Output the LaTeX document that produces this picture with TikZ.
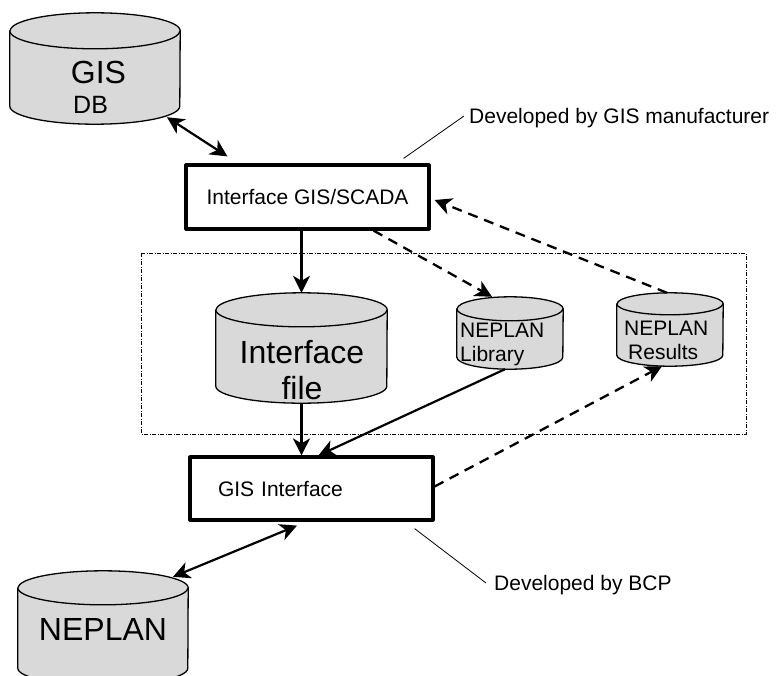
\documentclass[tikz,border=0pt]{standalone}
\usepackage{fontspec}
\setmainfont{Liberation Sans}
\usetikzlibrary{arrows.meta}

% data base drawn as a cylinder: name, x, y, width, height, radius of the end
\newcommand\database[6]{%
   \node[inner sep=0pt,minimum width=#4,minimum height=#5] (#1) at (#2,#3) {};
   \filldraw[dbline] ([yshift=-#6pt]#1.north west) -- ([yshift=#6pt]#1.south west)
      arc[start angle=180,end angle=360,x radius=#4pt/2,y radius=#6pt]
      -- ([yshift=-#6pt]#1.north east)
      arc[start angle=0,end angle=180,x radius=#4pt/2,y radius=#6pt] -- cycle;
   \draw[dbline] ([yshift=-#6pt]#1.north west)
      arc[start angle=180,end angle=360,x radius=#4pt/2,y radius=#6pt];}

\begin{document}
\begin{tikzpicture}[x=1pt,y=-1pt,line join=round,
   dbline/.style={line width=1.3pt,fill=gray!30},
   unit/.style={draw,line width=3.2pt,rectangle,inner sep=0pt,font=\fontsize{21}{25}\selectfont},
   arrowed/.style={-{Stealth[length=17pt,width=17pt,inset=5pt]}},
   flow/.style={arrowed,line width=2.6pt},
   twoway/.style={{Stealth[length=17pt,width=17pt,inset=5pt]}-{Stealth[length=17pt,width=17pt,inset=5pt]},line width=2.2pt},
   feed/.style={arrowed,line width=2.3pt,dash pattern=on 10pt off 7pt},
   txt/.style={font=\fontsize{21}{25}\selectfont,anchor=base west,inner sep=0pt},
   bigtxt/.style={font=\fontsize{32}{36}\selectfont,anchor=base,inner sep=0pt}]
   \useasboundingbox (0,0) rectangle (776,675);
   % dotted frame round the NEPLAN files
   \draw[line width=1pt,dash pattern=on 4pt off 1.5pt on 1pt off 1.5pt] (141,253) rectangle (746,434);
   % data bases
   \database{gisdb}{95}{68.5}{170}{111}{18}
   \database{ifile}{301.5}{348}{171}{110}{17}
   \database{lib}{510}{333}{106}{72}{12}
   \database{res}{670}{329.5}{106}{73}{11}
   \database{neplan}{103}{628}{170}{114}{17}
   \node[bigtxt] (gistxt) at (98.5,83) {GIS};
   \node[font=\fontsize{25}{30}\selectfont,anchor=base west,inner sep=0pt] (dbtxt) at (73,113) {DB};
   \node[bigtxt] (ifiletxt) at (302,363) {Interface};
   \node[bigtxt] (filetxt) at (302,399) {file};
   \node[txt] (libtxt) at (460,337) {NEPLAN};
   \node[txt] (libtxtb) at (460,361) {Library};
   \node[txt] (restxt) at (624,335) {NEPLAN};
   \node[txt] (restxtb) at (628,359) {Results};
   \node[bigtxt] (neplantxt) at (103,640) {NEPLAN};
   % interfaces
   \node[unit,minimum width=243,minimum height=64] (scada) at (307.5,197) {Interface GIS/SCADA};
   \node[unit,minimum width=243,minimum height=63,text width=187,inner xsep=28,align=left] (gisif) at (311.5,488.5) {GIS Interface};
   % notes
   \node[txt] (mfrnote) at (469,123) {Developed by GIS manufacturer};
   \node[txt] (bcpnote) at (494,590) {Developed by BCP};
   \draw[line width=0.8pt] ([shift={(-27,-5)}]scada.north east) -- ([shift={(-5,-7)}]mfrnote.base west);
   \draw[line width=0.8pt] ([shift={(-20,7)}]gisif.south east) -- ([shift={(-8,-7)}]bcpnote.base west);
   % connectors
   \draw[twoway] ([shift={(72,-7)}]gisdb.south) -- ([shift={(43,-7)}]scada.north west);
   \draw[flow] (ifile.north |- scada.south) -- (ifile.north);
   \draw[flow] (ifile.south) -- (ifile.south |- gisif.north);
   \draw[flow,line width=2.2pt] ([xshift=-5]lib.south) -- ([xshift=7]gisif.north);
   \draw[feed] ([xshift=-57]scada.south east) -- ([xshift=-18]lib.north);
   \draw[feed] ([xshift=-3]res.north) -- ([shift={(4,3)}]scada.east);
   \draw[feed] ([yshift=2]gisif.east) -- ([xshift=-8]res.south);
   \draw[twoway] ([shift={(-14.5,4)}]gisif.south) -- ([shift={(70,6)}]neplan.north);
\end{tikzpicture}
\end{document}
